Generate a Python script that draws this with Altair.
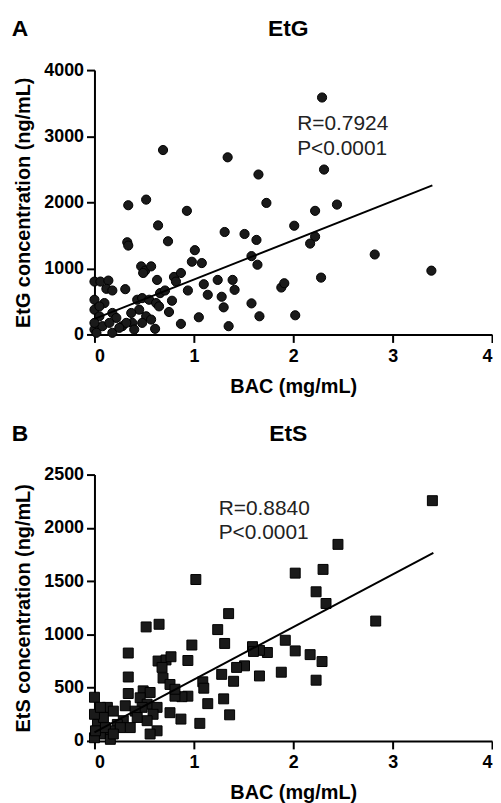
import altair as alt
import pandas as pd

# ---- Panel A: EtG ----
etg_bac = [0.69, 1.34, 1.65, 1.73, 0.34, 0.52, 0.93, 0.64, 2.01, 1.31, 1.51, 1.63, 0.33, 0.34,
           0.74, 1.01, 0.98, 1.08, 1.58, 1.64, 0.47, 0.51, 0.57, 0.49, 0.63, 0.80, 0.82, 0.87,
           0.94, 1.10, 1.14, 1.24, 1.39, 1.41, 1.28, 1.30, 1.58, 1.66, 1.35, 1.05, 0.87, 0.61,
           1.88, 1.91, 2.02, 0.31, 0.78, 0.75, 0.66, 0.71, 0.00, 0.06, 0.14, 0.12, 0.18,
           0.00, 0.10, 0.00, 0.05, 0.18, 0.22, 0.00, 0.08, 0.15, 0.18, 0.28, 0.38, 0.40, 0.32,
           0.43, 0.48, 0.55, 0.62, 0.65, 0.45, 0.52, 0.57, 0.37, 0.48, 0.25, 0.05, 0.00, 0.02,
           2.29, 2.31, 2.44, 2.22, 2.22, 2.17, 2.82, 3.39, 2.28]
etg_conc = [2790, 2680, 2420, 1990, 1955, 2040, 1870, 1650, 1645, 1550, 1520, 1430, 1395, 1345,
            1410, 1275, 1100, 1080, 1185, 1055, 1030, 965, 1030, 930, 825, 870, 800, 930,
            665, 760, 600, 825, 825, 675, 570, 410, 470, 275, 125, 260, 160, 85,
            710, 775, 290, 685, 510, 340, 625, 665, 800, 800, 815, 690, 665,
            525, 475, 375, 275, 325, 250, 75, 125, 175, 25, 125, 175, 75, 175,
            525, 550, 525, 475, 425, 375, 275, 225, 325, 175, 100, 425, 175, 25,
            3585, 2495, 1965, 1870, 1480, 1375, 1210, 965, 860]
etg_fit_x = [0.0, 3.40]
etg_fit_y = [236, 2256]
etg_ann = ["R=0.7924", "P<0.0001"]
etg_ann_x = [2.04, 2.04]
etg_ann_y = [3188, 2812]
etg_yticks = [0, 1000, 2000, 3000, 4000]

# ---- Panel B: EtS ----
ets_bac = [1.02, 1.35, 1.24, 1.31, 0.52, 0.65, 0.98, 0.34, 0.94, 0.64, 0.72, 0.77, 0.68,
           1.92, 2.02, 1.74, 1.66, 1.59, 1.60, 1.51, 1.43, 1.66, 1.88, 1.28, 1.40, 1.09, 1.10,
           1.14, 1.30, 1.36, 1.06, 0.87, 0.94, 0.88, 0.81, 0.69, 0.76, 0.81, 0.76, 0.34, 0.34,
           0.00, 0.31,
           0.49, 0.56, 0.46, 0.53, 0.63, 0.59, 0.53, 0.48, 0.41, 0.29, 0.23, 0.16, 0.06, 0.00,
           0.03, 0.09, 0.13, 0.19, 0.00, 0.06, 0.63, 0.56, 0.16, 0.36, 0.43, 0.26, 0.01, 0.11, 0.19,
           3.40, 2.45, 2.02, 2.30, 2.23, 2.33, 2.83, 2.17, 2.29, 2.23]
ets_conc = [1515, 1195, 1045, 915, 1070, 1095, 900, 825, 755, 750, 760, 790, 690,
            945, 845, 830, 850, 885, 840, 705, 690, 610, 645, 625, 560, 555, 495,
            350, 395, 245, 165, 205, 420, 415, 420, 590, 530, 485, 265, 600, 445,
            410, 330,
            470, 455, 405, 345, 315, 250, 190, 315, 280, 190, 155, 95, 65, 30,
            155, 220, 315, 280, 250, 315, 95, 65, 15, 125, 220, 125, 95, 125, 65,
            2255, 1845, 1575, 1610, 1400, 1290, 1125, 810, 745, 570]
ets_fit_x = [0.0, 3.41]
ets_fit_y = [81, 1766]
ets_ann = ["R=0.8840", "P<0.0001"]
ets_ann_x = [1.25, 1.25]
ets_ann_y = [2175, 1950]
ets_yticks = [0, 500, 1000, 1500, 2000, 2500]

x_ticks = [0, 1, 2, 3, 4]

FONT = "Liberation Sans"
INK = "#1a1a1a"


def panel(bac, conc, fit_x, fit_y, ann, ann_x, ann_y, yticks, ymax, shape, size,
          ytitle, title, letter, h):
    pts = pd.DataFrame({"bac": bac, "conc": conc})
    fit = pd.DataFrame({"bac": fit_x, "conc": fit_y})
    txt = pd.DataFrame({"bac": ann_x, "conc": ann_y, "t": ann})
    heads = pd.DataFrame({"t": [letter, title], "px": [-75, 195]})

    xs = alt.Scale(domain=[0, 4], nice=False, zero=False)
    ys = alt.Scale(domain=[0, ymax], nice=False)
    xax = alt.Axis(values=x_ticks, format="d", title="BAC (mg/mL)",
                   labelPadding=5, titlePadding=11)
    yax = alt.Axis(values=yticks, format="d", title=ytitle)

    points = alt.Chart(pts).mark_point(
        shape=shape, filled=True, size=size, color=INK, stroke="black",
        strokeWidth=1, opacity=1
    ).encode(
        x=alt.X("bac:Q", scale=xs, axis=xax),
        y=alt.Y("conc:Q", scale=ys, axis=yax),
    )
    line = alt.Chart(fit).mark_line(color="black", strokeWidth=2).encode(
        x="bac:Q", y="conc:Q"
    )
    text = alt.Chart(txt).mark_text(
        align="left", baseline="middle", fontSize=21, font=FONT, color="#222222"
    ).encode(x="bac:Q", y="conc:Q", text="t:N")
    head = alt.Chart(heads).mark_text(
        align="center", baseline="middle", fontSize=23, font=FONT,
        fontWeight="bold", color="black"
    ).encode(
        x=alt.X("px:Q", scale=None),
        y=alt.value(-41),
        text="t:N",
    )

    return alt.layer(points, line, text, head).properties(width=400, height=h)


top = panel(etg_bac, etg_conc, etg_fit_x, etg_fit_y, etg_ann, etg_ann_x, etg_ann_y,
            etg_yticks, 4000, "circle", 85, "EtG concentration (ng/mL)", "EtG", "A", 266)
bottom = panel(ets_bac, ets_conc, ets_fit_x, ets_fit_y, ets_ann, ets_ann_x, ets_ann_y,
               ets_yticks, 2500, "square", 100, "EtS concentration (ng/mL)", "EtS", "B", 268)

chart = alt.vconcat(top, bottom, spacing=27).properties(
    padding={"left": 3, "top": 8, "right": 0, "bottom": 0}
).configure_view(stroke=None).configure_axis(
    grid=False,
    domainColor="black", domainWidth=2,
    tickColor="black", tickWidth=2, tickSize=8,
    labelFont=FONT, labelFontSize=18, labelFontWeight="bold", labelColor="black",
    labelPadding=3,
    titleFont=FONT, titleFontSize=20, titleFontWeight="bold", titleColor="black",
    titlePadding=10,
)

chart.save("out.html", embed_options={"renderer": "svg", "actions": False})
